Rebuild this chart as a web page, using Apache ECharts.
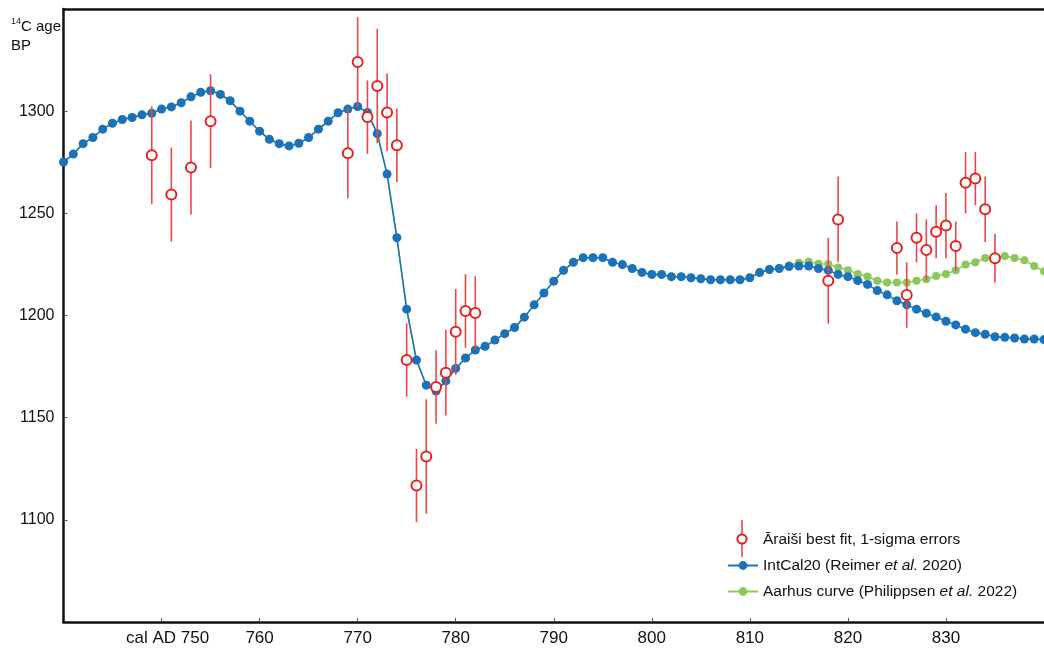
<!DOCTYPE html>
<html>
<head>
<meta charset="utf-8">
<script src="https://cdn.jsdelivr.net/npm/echarts@6/dist/echarts.min.js"></script>
<style>
html,body{margin:0;padding:0;background:#fff;}
#chart{width:1044px;height:650px;}
</style>
</head>
<body>
<div id="chart"></div>
<script>
const curveYears = [740,741,742,743,744,745,746,747,748,749,750,751,752,753,754,755,756,757,758,759,
  760,761,762,763,764,765,766,767,768,769,770,771,772,773,774,775,776,777,778,779,
  780,781,782,783,784,785,786,787,788,789,790,791,792,793,794,795,796,797,798,799,
  800,801,802,803,804,805,806,807,808,809,810,811,812,813,814,815,816,817,818,819,
  820,821,822,823,824,825,826,827,828,829,830,831,832,833,834,835,836,837,838,839,840];

const intcal20 = [1275.1,1279.0,1284.1,1287.1,1291.2,1294.1,1295.9,1296.9,1298.2,1299.0,
  1301.0,1302.1,1304.1,1307.0,1309.2,1310.0,1308.2,1305.1,1300.0,1295.1,
  1290.2,1286.2,1284.1,1283.0,1284.3,1287.1,1291.2,1295.1,1299.2,1301.0,
  1302.3,1299.4,1289.0,1269.2,1238.1,1203.1,1178.2,1165.9,1163.0,1168.0,
  1174.1,1179.2,1183.1,1184.9,1188.0,1191.1,1194.1,1199.2,1205.2,1211.0,
  1216.8,1222.1,1226.0,1228.3,1228.3,1228.3,1226.0,1224.9,1223.0,1221.1,
  1220.1,1220.1,1219.0,1219.0,1218.5,1218.0,1217.5,1217.5,1217.5,1217.5,
  1218.5,1221.0,1222.5,1223.0,1224.0,1224.2,1224.2,1223.0,1222.1,1220.1,
  1219.0,1217.1,1215.2,1212.2,1210.1,1207.2,1205.2,1203.1,1201.1,1199.3,
  1197.2,1195.4,1193.3,1191.6,1190.8,1189.6,1189.3,1189.0,1188.5,1188.5,1188.2];

const aarhus = [1275.1,1279.0,1284.1,1287.1,1291.2,1294.1,1295.9,1296.9,1298.2,1299.0,
  1301.0,1302.1,1304.1,1307.0,1309.2,1310.0,1308.2,1305.1,1300.0,1295.1,
  1290.2,1286.2,1284.1,1283.0,1284.3,1287.1,1291.2,1295.1,1299.2,1301.0,
  1302.3,1299.4,1289.0,1269.2,1238.1,1203.1,1178.2,1165.9,1163.0,1168.0,
  1174.1,1179.2,1183.1,1184.9,1188.0,1191.1,1194.1,1199.2,1205.2,1211.0,
  1216.8,1222.1,1226.0,1228.3,1228.3,1228.3,1226.0,1224.9,1223.0,1221.1,
  1220.1,1220.1,1219.0,1219.0,1218.5,1218.0,1217.5,1217.5,1217.5,1217.5,
  1218.5,1221.0,1222.5,1223.3,1224.6,1225.8,1226.3,1225.3,1225.2,1223.5,
  1222.2,1220.3,1219.1,1217.0,1216.2,1216.2,1216.2,1217.0,1217.8,1219.3,
  1220.3,1222.1,1225.0,1226.0,1228.1,1228.4,1229.1,1228.1,1227.0,1224.2,1221.6];

const araisiYears = [749,751,753,755,769,770,771,772,773,774,775,776,777,778,779,780,781,782,
  818,819,825,826,827,828,829,830,831,832,833,834,835];
const araisiC14 = [1278.4,1259.2,1272.4,1295.1,1279.4,1324.1,1297.1,1312.3,1299.4,1283.3,1178.2,1116.8,1131.0,1165.0,1172.0,1192.0,1202.2,1201.2,
  1217.0,1247.0,1233.0,1210.0,1238.0,1232.0,1241.0,1244.0,1234.0,1265.0,1267.0,1252.0,1228.0];
const araisiSigma = [24,23,23,23,22,22,18,28,19,18,18,18,28,18,21,21,18,18,
  21,21,13,16,12,15,13,16,12,15,13,16,12];

const xMin = 740, xMax = 840, xStep = 10;
const yMin = 1050, yMax = 1350, yStep = 50;

const RED = '#e42222', BAR = '#ee4545', BLUE = '#1a72ba', GREEN = '#8cc75b';

const chart = echarts.init(document.getElementById('chart'));

const intcalData = curveYears.map((y, i) => [y, intcal20[i]]);
const aarhusData = curveYears.map((y, i) => [y, aarhus[i]]);
const araisiData = araisiYears.map((y, i) => [y, araisiC14[i]]);
const errData = araisiYears.map((y, i) => [y, araisiC14[i] - araisiSigma[i], araisiC14[i] + araisiSigma[i]]);

const FONT = 'Liberation Sans, Arial, sans-serif';
const LFS = 15.5;
const legendRich = {
  n: {fontFamily: FONT, fontSize: LFS, color: '#111'},
  i: {fontFamily: FONT, fontSize: LFS, color: '#111', fontStyle: 'italic'}
};

chart.setOption({
  animation: false,
  backgroundColor: '#fff',
  title: {
    text: '{s|14}{t|C age}\n{t|BP}',
    left: 6, top: 12,
    textStyle: {
      fontWeight: 'normal',
      rich: {
        s: {fontFamily: FONT, fontSize: 9, fontWeight: 'normal', color: '#111', verticalAlign: 'top', lineHeight: 19, padding:[0,0,6,0]},
        t: {fontFamily: FONT, fontSize: 15, fontWeight: 'normal', color: '#111', lineHeight: 19}
      }
    }
  },
  grid: {
    left: 63.5, top: 9, right: 0, bottom: 28,
    show: false
  },
  legend: {
    orient: 'vertical',
    left: 722, top: 526,
    itemWidth: 30, itemHeight: 11, itemGap: 9,
    textStyle: {fontFamily: FONT, fontSize: LFS, color: '#111', lineHeight: 17, rich: legendRich},
    data: [
      {name: 'Āraiši best fit, 1-sigma errors', icon: 'circle', itemStyle: {opacity: 0}},
      {name: 'IntCal20'},
      {name: 'Aarhus'}
    ],
    formatter: function (name) {
      if (name === 'IntCal20') return '{n|IntCal20 (Reimer }{i|et al.}{n| 2020)}';
      if (name === 'Aarhus') return '{n|Aarhus curve (Philippsen }{i|et al.}{n| 2022)}';
      return '{n|' + name + '}';
    },
    selectedMode: false
  },
  graphic: [
    {type: 'line', shape: {x1: 742, y1: 520, x2: 742, y2: 557}, style: {stroke: BAR, lineWidth: 1.6}, z: 100},
    {type: 'circle', shape: {cx: 742, cy: 539, r: 4.6}, style: {stroke: RED, fill: '#fff', lineWidth: 2}, z: 101}
  ],
  xAxis: [{
    type: 'value', min: xMin, max: xMax, interval: xStep,
    axisLine: {show: true, onZero: false, lineStyle: {color: '#111', width: 2.5}},
    axisTick: {show: true, inside: true, length: 4, lineStyle: {color: '#555', width: 1}},
    splitLine: {show: false},
    axisLabel: {
      showMinLabel: false, showMaxLabel: false,
      margin: 8, fontFamily: FONT, fontSize: 17, color: '#111',
      formatter: function (v) { return v === 750 ? '{c|cal AD 750}' : String(v); },
      rich: {c: {fontFamily: FONT, fontSize: 17, color: '#111', padding: [0, 0, 0, 12]}}
    }
  }, {
    type: 'value', position: 'top', min: xMin, max: xMax, interval: xStep,
    axisLine: {show: true, onZero: false, lineStyle: {color: '#111', width: 2.5}},
    axisTick: {show: false}, axisLabel: {show: false}, splitLine: {show: false}
  }],
  yAxis: {
    type: 'value', min: yMin, max: yMax, interval: yStep,
    axisLine: {show: true, onZero: false, lineStyle: {color: '#111', width: 2.5}},
    axisTick: {show: true, inside: true, length: 4, lineStyle: {color: '#555', width: 1}},
    splitLine: {show: false},
    axisLabel: {
      showMinLabel: false, showMaxLabel: false,
      margin: 9, fontFamily: FONT, fontSize: 16, color: '#111',
      formatter: function (v) { return String(v); }
    }
  },
  series: [
    {
      name: 'Aarhus', type: 'line', data: aarhusData,
      symbol: 'circle', symbolSize: 8, z: 2,
      itemStyle: {color: GREEN},
      lineStyle: {color: GREEN, width: 1.5}
    },
    {
      name: 'IntCal20', type: 'line', data: intcalData,
      symbol: 'circle', symbolSize: 9, z: 3,
      itemStyle: {color: BLUE},
      lineStyle: {color: BLUE, width: 1.5}
    },
    {
      name: 'errbars', type: 'custom', z: 4,
      data: errData,
      renderItem: function (params, api) {
        const x = api.value(0);
        const lo = api.coord([x, api.value(1)]);
        const hi = api.coord([x, api.value(2)]);
        return {
          type: 'line',
          shape: {x1: lo[0], y1: lo[1], x2: hi[0], y2: hi[1]},
          style: {stroke: BAR, lineWidth: 1.6}
        };
      },
      encode: {x: 0, y: [1, 2]}
    },
    {
      name: 'Āraiši best fit, 1-sigma errors', type: 'scatter', data: araisiData,
      symbol: 'emptyCircle', symbolSize: 10, z: 5,
      itemStyle: {color: RED, borderColor: RED, borderWidth: 2, opacity: 1}
    }
  ]
});
</script>
</body>
</html>
